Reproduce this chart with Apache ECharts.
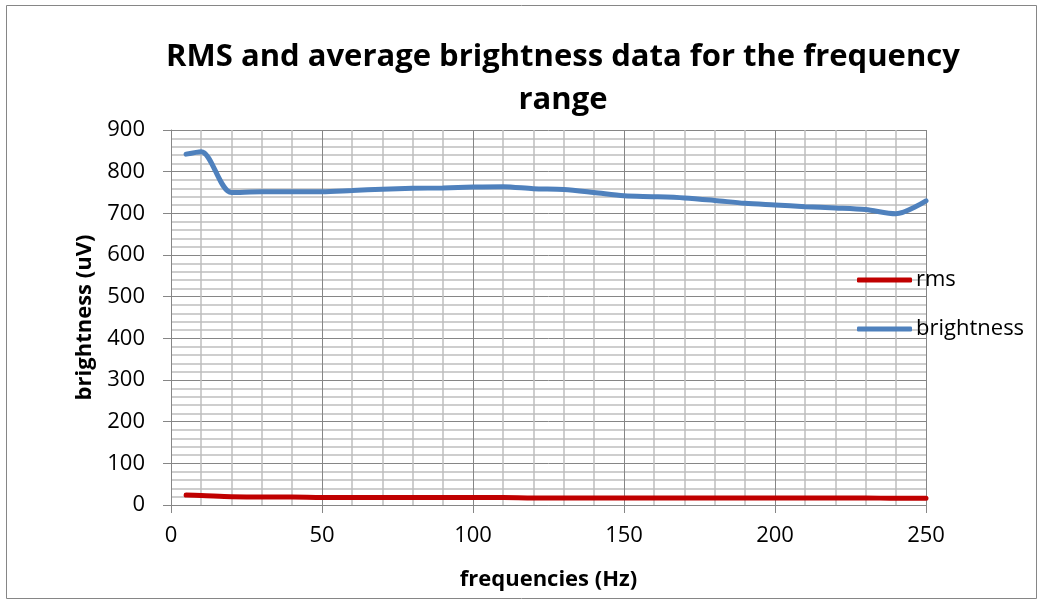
<!DOCTYPE html>
<html><head><meta charset="utf-8">
<script src="https://cdn.jsdelivr.net/npm/echarts@6/dist/echarts.min.js"></script>
<style>html,body{margin:0;padding:0;background:#fff}#c{width:1043px;height:605px}</style>
</head><body><div id="c"></div>
<script>
const frequencies = [5,10,20,30,40,50,60,70,80,90,100,110,120,130,140,150,160,170,180,190,200,210,220,230,240,250];
const rms = [24,23,20,19,19,18,18,18,18,18,18,18,17,17,17,17,17,17,17,17,17,17,17,17,16,16];
const brightness = [842,848,750,752,752,752,755,758,760,761,763,764,759,757,750,742,740,737,731,724,720,716,713,709,699,730];
const xTicks = [0,50,100,150,200,250];
const yTicks = [0,100,200,300,400,500,600,700,800,900];

const chart = echarts.init(document.getElementById('c'));
const font = '"Open Sans", sans-serif';
chart.setOption({
  animation:false,
  graphic:[{type:'rect',shape:{x:6.5,y:5.5,width:1030,height:593},style:{fill:null,stroke:'#868686',lineWidth:1}}],
  title:{text:'RMS and average brightness data for the frequency\nrange',left:558,textAlign:'center',top:31,
    textStyle:{fontFamily:font,fontSize:31,fontWeight:'bold',color:'#000',lineHeight:43}},
  legend:{orient:'vertical',left:852,top:264,itemWidth:55,itemHeight:5,itemGap:27,icon:'roundRect',
    textStyle:{fontFamily:font,fontSize:22,lineHeight:22,color:'#000',padding:[0,0,0,-1]},
    data:['rms','brightness']},
  grid:{left:171,right:117,top:130,bottom:100},
  xAxis:{type:'value',min:xTicks[0],max:xTicks[xTicks.length-1],interval:50,
    name:'frequencies (Hz)',nameLocation:'middle',nameGap:64,
    nameTextStyle:{fontFamily:font,fontSize:22,fontWeight:'bold',color:'#000'},
    axisLine:{show:true,lineStyle:{color:'#868686',width:1}},
    axisTick:{show:true,length:8,lineStyle:{color:'#868686'}},
    axisLabel:{fontFamily:font,fontSize:22,color:'#000',margin:20},
    splitLine:{show:true,lineStyle:{color:'#868686',width:1}},
    minorTick:{show:false,splitNumber:5},
    minorSplitLine:{show:true,lineStyle:{color:'#bfbfbf',width:1.5}}},
  yAxis:{type:'value',min:yTicks[0],max:yTicks[yTicks.length-1],interval:100,
    name:'brightness (uV)',nameLocation:'middle',nameGap:75,nameRotate:90,
    nameTextStyle:{fontFamily:font,fontSize:22,fontWeight:'bold',color:'#000'},
    axisLine:{show:true,lineStyle:{color:'#868686',width:1}},
    axisTick:{show:true,length:8,lineStyle:{color:'#868686'}},
    axisLabel:{fontFamily:font,fontSize:22,color:'#000',margin:26},
    splitLine:{show:true,lineStyle:{color:'#868686',width:1}},
    minorTick:{show:false,splitNumber:5},
    minorSplitLine:{show:true,lineStyle:{color:'#bfbfbf',width:1.5}}},
  series:[
    {name:'rms',type:'line',smooth:0.3,showSymbol:false,color:'#c00000',
     lineStyle:{width:5,color:'#c00000',cap:'round'},
     data:frequencies.map((f,i)=>[f,rms[i]])},
    {name:'brightness',type:'line',smooth:0.3,showSymbol:false,color:'#4f81bd',
     lineStyle:{width:5,color:'#4f81bd',cap:'round'},
     data:frequencies.map((f,i)=>[f,brightness[i]])}
  ]
});
</script></body></html>
